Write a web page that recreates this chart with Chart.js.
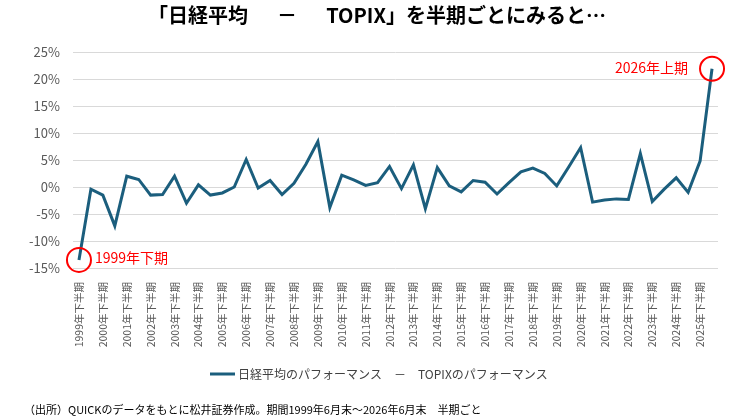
<!DOCTYPE html>
<html>
<head>
<meta charset="utf-8">
<script src="https://cdn.jsdelivr.net/npm/chart.js@4"></script>
<style>
  body { margin: 0; background: #fff; }
  #wrap { width: 750px; height: 419px; }
</style>
</head>
<body>
<div id="wrap"><canvas id="perfChart" width="750" height="419"></canvas></div>
<script>
// half-year periods, 1999 H2 .. 2026 H1
const categories = [
  '1999年下半期',
  '2000年上半期', '2000年下半期', '2001年上半期', '2001年下半期', '2002年上半期', '2002年下半期',
  '2003年上半期', '2003年下半期', '2004年上半期', '2004年下半期', '2005年上半期', '2005年下半期',
  '2006年上半期', '2006年下半期', '2007年上半期', '2007年下半期', '2008年上半期', '2008年下半期',
  '2009年上半期', '2009年下半期', '2010年上半期', '2010年下半期', '2011年上半期', '2011年下半期',
  '2012年上半期', '2012年下半期', '2013年上半期', '2013年下半期', '2014年上半期', '2014年下半期',
  '2015年上半期', '2015年下半期', '2016年上半期', '2016年下半期', '2017年上半期', '2017年下半期',
  '2018年上半期', '2018年下半期', '2019年上半期', '2019年下半期', '2020年上半期', '2020年下半期',
  '2021年上半期', '2021年下半期', '2022年上半期', '2022年下半期', '2023年上半期', '2023年下半期',
  '2024年上半期', '2024年下半期', '2025年上半期', '2025年下半期', '2026年上半期'
];

// Nikkei performance minus TOPIX performance (%)
const spreadValues = [
  -13.5,
  -0.4, -1.5, -7.2, 2.0, 1.4, -1.5,
  -1.4, 2.0, -3.0, 0.4, -1.5, -1.1,
  0.0, 5.1, -0.2, 1.2, -1.4, 0.7,
  4.2, 8.4, -3.8, 2.2, 1.3, 0.3,
  0.8, 3.8, -0.3, 4.1, -4.0, 3.6,
  0.2, -0.9, 1.2, 0.9, -1.3, 0.8,
  2.8, 3.5, 2.5, 0.2, 3.7, 7.3,
  -2.8, -2.4, -2.2, -2.3, 6.2, -2.7,
  -0.4, 1.7, -1.0, 4.8, 21.9
];

const yTicks = [-15, -10, -5, 0, 5, 10, 15, 20, 25];

const chartTitle = '「日経平均　  －　  TOPIX」を半期ごとにみると…';
const seriesLabel = '日経平均のパフォーマンス　－　TOPIXのパフォーマンス';
const footNote = '（出所）QUICKのデータをもとに松井証券作成。期間1999年6月末～2026年6月末　半期ごと';
const firstNote = '1999年下期';
const lastNote = '2026年上期';

const FONT = '"Noto Sans CJK JP", "Noto Sans", sans-serif';
const LINE_COLOR = '#1b5e7d';

// title, legend, footnote and the two red callouts
const extrasPlugin = {
  id: 'extras',
  afterDraw(chart) {
    const ctx = chart.ctx;
    const meta = chart.getDatasetMeta(0);
    ctx.save();

    // title
    ctx.fillStyle = '#000';
    ctx.font = 'bold 20px ' + FONT;
    ctx.textAlign = 'center';
    ctx.textBaseline = 'middle';
    ctx.fillText(chartTitle, 377, 15);

    // legend
    ctx.strokeStyle = LINE_COLOR;
    ctx.lineWidth = 3;
    ctx.beginPath();
    ctx.moveTo(210, 374);
    ctx.lineTo(235, 374);
    ctx.stroke();
    ctx.fillStyle = '#404040';
    ctx.font = '12px ' + FONT;
    ctx.textAlign = 'left';
    ctx.fillText(seriesLabel, 238, 374);

    // footnote
    ctx.fillStyle = '#000';
    ctx.font = '11px ' + FONT;
    ctx.fillText(footNote, 24, 410);

    // callouts
    const p0 = meta.data[0];
    const pN = meta.data[meta.data.length - 1];
    ctx.strokeStyle = '#ff0000';
    ctx.lineWidth = 2;
    [p0, pN].forEach(p => {
      ctx.beginPath();
      ctx.arc(p.x, p.y, 12, 0, Math.PI * 2);
      ctx.stroke();
    });
    ctx.fillStyle = '#ff0000';
    ctx.font = '14px ' + FONT;
    ctx.textAlign = 'left';
    ctx.fillText(firstNote, p0.x + 16, p0.y - 2);
    ctx.textAlign = 'right';
    ctx.fillText(lastNote, pN.x - 24, pN.y - 1);

    ctx.restore();
  }
};

const ctx = document.getElementById('perfChart').getContext('2d');
new Chart(ctx, {
  type: 'line',
  data: {
    labels: categories,
    datasets: [{
      label: seriesLabel,
      data: spreadValues,
      borderColor: LINE_COLOR,
      borderWidth: 3,
      pointRadius: 0,
      tension: 0,
      fill: false
    }]
  },
  options: {
    responsive: false,
    animation: false,
    devicePixelRatio: 1,
    layout: { padding: { top: 52, right: 32, bottom: 71, left: 0 } },
    plugins: {
      legend: { display: false },
      title: { display: false },
      tooltip: { enabled: false }
    },
    scales: {
      x: {
        offset: true,
        grid: { display: false, drawTicks: false },
        border: { display: false },
        ticks: {
          autoSkip: false,
          maxRotation: 90,
          minRotation: 90,
          padding: 14,
          color: '#595959',
          font: { family: FONT, size: 10.5 },
          callback: function (val, index) {
            return index % 2 === 0 ? categories[index] : '';
          }
        },
        afterFit: scale => { scale.height = 80; }
      },
      y: {
        min: yTicks[0],
        max: yTicks[yTicks.length - 1],
        afterBuildTicks: scale => { scale.ticks = yTicks.map(v => ({ value: v })); },
        grid: { color: '#d9d9d9', lineWidth: 1, drawTicks: false },
        border: { display: false },
        ticks: {
          padding: 13,
          color: '#595959',
          font: { family: FONT, size: 13 },
          callback: v => v + '%'
        },
        afterFit: scale => { scale.width = 73; }
      }
    }
  },
  plugins: [extrasPlugin]
});
</script>
</body>
</html>
